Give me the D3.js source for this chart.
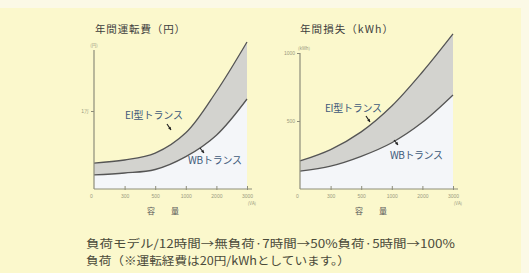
<!DOCTYPE html>
<html><head><meta charset="utf-8">
<script src="https://cdn.jsdelivr.net/npm/d3@7"></script>
<style>
html,body{margin:0;padding:0;background:#fbf9e6;}
svg{display:block;font-family:"Noto Sans CJK JP","Noto Sans",sans-serif;}
</style></head>
<body>
<svg id="c" width="529" height="273"></svg>
<script>
// ---- data ----
const capacities = ["0", "300", "500", "1000", "2000", "3000"];
const costEI = [3330, 3720, 4600, 7200, 12500, 18850];   // 年間運転費 EI型 (円)
const costWB = [1800, 2050, 2500, 4150, 6900, 11540];    // 年間運転費 WB (円)
const lossEI = [206, 290, 420, 610, 860, 1140];          // 年間損失 EI型 (kWh)
const lossWB = [132, 168, 240, 340, 490, 691];           // 年間損失 WB (kWh)
const costTicks = [10000];
const costTickLabels = ["1万"];
const lossTicks = [500, 1000];
const lossTickLabels = ["500", "1000"];

const svg = d3.select("#c");
svg.append("rect").attr("x", 0).attr("y", 8).attr("width", 521).attr("height", 265).attr("fill", "#fbf8cc");

function panel(cfg) {
  const g = svg.append("g");
  const x = d3.scaleLinear().domain([0, capacities.length - 1]).range([cfg.x0, cfg.x1]);
  const y = d3.scaleLinear().domain([0, cfg.refVal]).range([189, cfg.refY]);
  const idx = d3.range(capacities.length);
  const curve = d3.curveCatmullRom.alpha(0.5);
  // lower region (below WB)
  g.append("path")
    .attr("d", d3.area().x(i => x(i)).y0(y(0)).y1(i => y(cfg.wb[i])).curve(curve)(idx))
    .attr("fill", "#f4f6f9");
  // band between
  g.append("path")
    .attr("d", d3.area().x(i => x(i)).y0(i => y(cfg.wb[i])).y1(i => y(cfg.ei[i])).curve(curve)(idx))
    .attr("fill", "#d3d3cf");
  const line = d3.line().x(i => x(i)).y(i => y(cfg.ei[i])).curve(curve);
  g.append("path").attr("d", line(idx)).attr("fill", "none").attr("stroke", "#555")
    .attr("stroke-width", 1.3);
  const line2 = d3.line().x(i => x(i)).y(i => y(cfg.wb[i])).curve(curve);
  g.append("path").attr("d", line2(idx)).attr("fill", "none").attr("stroke", "#555")
    .attr("stroke-width", 1.3);

  // axes
  const axisColor = "#8d8d7a";
  const xa = g.append("g").attr("transform", `translate(0,${y(0)})`)
    .call(d3.axisBottom(x).tickValues(idx).tickFormat(i => capacities[i]).tickSizeInner(-3).tickSizeOuter(0).tickPadding(5));
  xa.select(".domain").attr("stroke", axisColor).attr("stroke-width", 1.2)
    .attr("d", `M${cfg.x0},0H${cfg.x1 + 5}`);
  xa.selectAll(".tick line").attr("stroke", axisColor).attr("y2", -3).attr("y1", 1);
  xa.selectAll(".tick").filter(i => i === 0).select("line").remove();
  xa.selectAll(".tick").filter(i => i === 0).select("text").attr("dx", -3);
  xa.selectAll("text").attr("fill", "#9a9a80").attr("font-size", 5).attr("font-family", "Liberation Sans");

  const ya = g.append("g").attr("transform", `translate(${cfg.x0},0)`)
    .call(d3.axisLeft(y).tickValues(cfg.ticks).tickFormat((d, i) => cfg.tickLabels[i]).tickSizeInner(3).tickSizeOuter(0).tickPadding(2));
  ya.select(".domain").attr("stroke", axisColor).attr("stroke-width", 1.2)
    .attr("d", `M0,${y(0)}V${cfg.axisTop}`);
  ya.selectAll(".tick line").attr("stroke", axisColor);
  ya.selectAll("text").attr("fill", "#9a9a80").attr("font-size", 5).attr("font-family", "Liberation Sans");

  // units
  g.append("text").attr("x", cfg.yUnitX).attr("y", cfg.axisTop - 3).attr("font-size", 4.5)
    .attr("fill", "#9a9a80").attr("text-anchor", "middle").text(cfg.yUnit);
  g.append("text").attr("x", cfg.x1 + 5).attr("y", 205).attr("font-size", 4.5)
    .attr("fill", "#9a9a80").attr("text-anchor", "middle").text("(VA)");
  g.append("text").attr("x", cfg.xTitleX).attr("y", 214).attr("font-size", 8)
    .attr("fill", "#555").attr("text-anchor", "middle").text("容　　量");
  // title
  g.append("text").attr("x", cfg.titleX).attr("y", 33).attr("font-size", 10.5)
    .attr("fill", "#3d3d3d").attr("textLength", cfg.titleLen).text(cfg.title);

  // labels + arrows
  const lab = (t, lx, ly, len, ax1, ay1, ax2, ay2) => {
    g.append("text").attr("x", lx).attr("y", ly).attr("font-size", 10).attr("fill", "#3f5a7a")
      .attr("textLength", len).text(t);
    g.append("line").attr("x1", ax1).attr("y1", ay1).attr("x2", ax2).attr("y2", ay2)
      .attr("stroke", "#222").attr("stroke-width", 1.2);
    const ang = Math.atan2(ay2 - ay1, ax2 - ax1);
    const s = 3.2;
    const p = [[ax2, ay2],
      [ax2 - s * Math.cos(ang - 0.5), ay2 - s * Math.sin(ang - 0.5)],
      [ax2 - s * Math.cos(ang + 0.5), ay2 - s * Math.sin(ang + 0.5)]];
    g.append("path").attr("d", "M" + p.join("L") + "Z").attr("fill", "#222");
  };
  cfg.labels.forEach(l => lab(...l));
}

panel({
  x0: 94, x1: 247, refVal: 10000, refY: 111, axisTop: 50,
  ei: costEI, wb: costWB, ticks: costTicks, tickLabels: costTickLabels,
  yUnit: "(円)", yUnitX: 94, xTitleX: 163, titleX: 95, titleLen: 90,
  title: "年間運転費（円）",
  labels: [["EI型トランス", 125, 119, 58, 167, 124, 171, 130],
           ["WBトランス", 188, 164, 54, 200, 148, 204, 153]]
});
panel({
  x0: 300, x1: 453, refVal: 1000, refY: 53, axisTop: 53,
  ei: lossEI, wb: lossWB, ticks: lossTicks, tickLabels: lossTickLabels,
  yUnit: "(kWh)", yUnitX: 304, xTitleX: 371, titleX: 300, titleLen: 93,
  title: "年間損失（kWh）",
  labels: [["EI型トランス", 325, 112, 57, 366, 116, 370, 122],
           ["WBトランス", 390, 159, 53, 394, 140, 398, 145]]
});

// footer
svg.append("text").attr("x", 86).attr("y", 248).attr("font-size", 11.5).attr("fill", "#4a4a3a")
  .attr("textLength", 369).attr("lengthAdjust", "spacingAndGlyphs")
  .text("負荷モデル/12時間→無負荷·7時間→50%負荷·5時間→100%");
svg.append("text").attr("x", 86).attr("y", 265).attr("font-size", 11.5).attr("fill", "#4a4a3a")
  .attr("textLength", 264).attr("lengthAdjust", "spacingAndGlyphs")
  .text("負荷（※運転経費は20円/kWhとしています。）");
</script>
</body></html>
